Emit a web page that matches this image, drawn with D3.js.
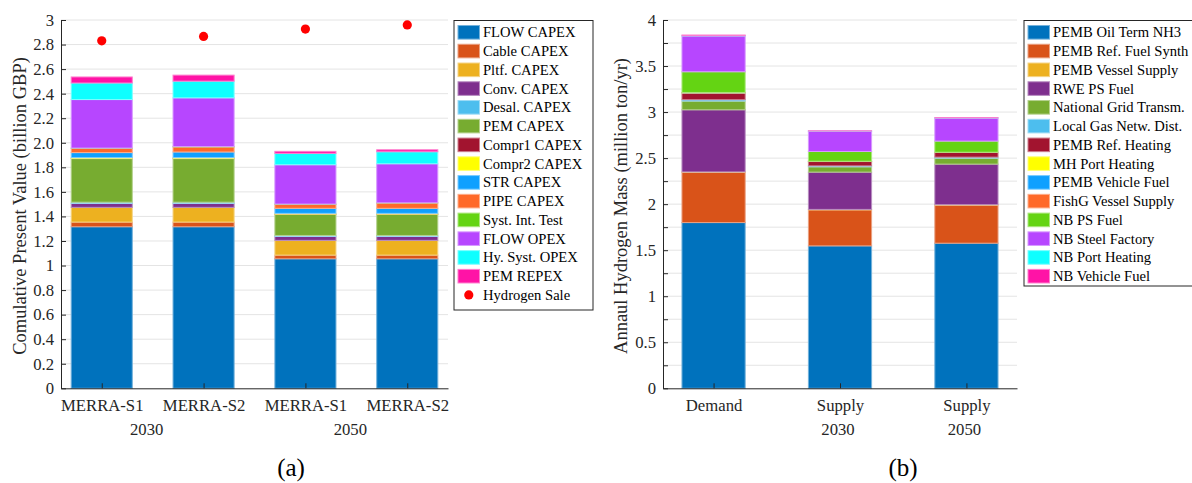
<!DOCTYPE html>
<html>
<head>
<meta charset="utf-8">
<script src="https://cdn.jsdelivr.net/npm/d3@7"></script>
<style>
    html, body { margin: 0; padding: 0; background: #fff; }
    svg { display: block; font-family: "Liberation Serif", "Times New Roman", serif; }
</style>
</head>
<body>
<svg id="chart" width="1192" height="483"></svg>
<script>
    //----- DATA (a) -----------------------------------//
    var costCategories = ['MERRA-S1', 'MERRA-S2', 'MERRA-S1', 'MERRA-S2'];
    var costYears = ['2030', '2050'];
    var costSeries = ['FLOW CAPEX', 'Cable CAPEX', 'Pltf. CAPEX', 'Conv. CAPEX', 'Desal. CAPEX',
        'PEM CAPEX', 'Compr1 CAPEX', 'Compr2 CAPEX', 'STR CAPEX', 'PIPE CAPEX',
        'Syst. Int. Test', 'FLOW OPEX', 'Hy. Syst. OPEX', 'PEM REPEX'];
    var cost2030S1 = [1.316, 0.038, 0.120, 0.032, 0.010, 0.355, 0.002, 0.006, 0.041, 0.034, 0.003, 0.395, 0.135, 0.049];
    var cost2030S2 = [1.316, 0.038, 0.120, 0.032, 0.010, 0.355, 0.002, 0.006, 0.046, 0.041, 0.003, 0.397, 0.136, 0.049];
    var cost2050S1 = [1.055, 0.030, 0.120, 0.032, 0.008, 0.172, 0.002, 0.006, 0.041, 0.032, 0.003, 0.320, 0.093, 0.016];
    var cost2050S2 = [1.055, 0.030, 0.120, 0.032, 0.008, 0.172, 0.002, 0.006, 0.041, 0.043, 0.002, 0.318, 0.098, 0.016];
    var hydrogenSale = [2.83, 2.866, 2.926, 2.96];
    var costTicks = ['0', '0.2', '0.4', '0.6', '0.8', '1', '1.2', '1.4', '1.6', '1.8', '2.0', '2.2', '2.4', '2.6', '2.8', '3'];

    //----- DATA (b) -----------------------------------//
    var massCategories = ['Demand', 'Supply', 'Supply'];
    var massYears = ['', '2030', '2050'];
    var massSeries = ['PEMB Oil Term NH3', 'PEMB Ref. Fuel Synth', 'PEMB Vessel Supply', 'RWE PS Fuel',
        'National Grid Transm.', 'Local Gas Netw. Dist.', 'PEMB Ref. Heating', 'MH Port Heating',
        'PEMB Vehicle Fuel', 'FishG Vessel Supply', 'NB PS Fuel', 'NB Steel Factory',
        'NB Port Heating', 'NB Vehicle Fuel'];
    var massDemand = [1.800, 0.545, 0.005, 0.675, 0.095, 0.015, 0.072, 0.002, 0.002, 0.002, 0.225, 0.389, 0.002, 0.008];
    var massSupply2030 = [1.547, 0.391, 0.005, 0.405, 0.058, 0.010, 0.047, 0.001, 0.001, 0.001, 0.106, 0.221, 0.001, 0.003];
    var massSupply2050 = [1.576, 0.413, 0.005, 0.441, 0.065, 0.011, 0.050, 0.001, 0.001, 0.001, 0.121, 0.250, 0.001, 0.004];
    var massTicks = ['0', '', '0.5', '', '1', '', '1.5', '', '2', '', '2.5', '', '3', '', '3.5', '', '4'];

    //----- COLOURS & SIZES ----------------------------//
    var COST_COLORS = ['#0072BD', '#D95319', '#EDB120', '#7E2F8E', '#4DBEEE', '#77AC30', '#A2142F',
        '#FFFF00', '#0FA0FF', '#FF6929', '#64D413', '#B746FF', '#0FFFFF', '#FF13A6'];
    var MASS_COLORS = ['#0072BD', '#D95319', '#EDB120', '#7E2F8E', '#77AC30', '#4DBEEE', '#A2142F',
        '#FFFF00', '#0FA0FF', '#FF6929', '#64D413', '#B746FF', '#0FFFFF', '#FF13A6'];
    var AXIS_COLOR = '#262626',
        GRID_COLOR = '#e4e4e4',
        TICK_FONT = 16.7,
        LABEL_FONT = 18.5,
        LEGEND_FONT = 14.6,
        LEGEND_STEP = 18.76;

    var svg = d3.select('#chart');

    function edgeColor(c) {
        return d3.interpolateRgb(c, '#ffffff')(0.45);
    }

    function buildRows(keys, bars) {
        return bars.map(function (vals) {
            var row = {};
            keys.forEach(function (k, i) { row[k] = vals[i]; });
            return row;
        });
    }

    //----- ONE PANEL ----------------------------------//
    function drawPanel(o) {
        var x = d3.scaleLinear().domain(o.xDomain).range([o.left, o.right]);
        var y = d3.scaleLinear().domain([0, o.yMax]).range([o.bottom, o.top]);
        var g = svg.append('g');
        var colors = o.colors;
        var tickVals = o.ticks.map(function (t, i) { return i * o.yStep; });

        // grid
        g.append('g').selectAll('line')
            .data(tickVals.slice(1)).enter()
            .append('line')
                .attr('x1', o.left).attr('x2', o.right)
                .attr('y1', function (d) { return y(d); })
                .attr('y2', function (d) { return y(d); })
                .attr('stroke', GRID_COLOR).attr('stroke-width', 1);

        // stacked bars
        var stacked = d3.stack().keys(o.keys)(buildRows(o.keys, o.bars));
        g.append('g').selectAll('g')
            .data(stacked).enter()
            .append('g')
                .attr('fill', function (d, i) { return colors[i]; })
                .attr('stroke', function (d, i) { return edgeColor(colors[i]); })
                .attr('stroke-width', 1)
            .selectAll('rect')
            .data(function (d) { return d; }).enter()
            .append('rect')
                .attr('x', function (d, i) { return x(i + 1 - o.barWidth / 2); })
                .attr('width', x(o.barWidth) - x(0))
                .attr('y', function (d) { return y(d[1]); })
                .attr('height', function (d) { return y(d[0]) - y(d[1]); });

        // markers
        if (o.markers) {
            g.append('g').selectAll('circle')
                .data(o.markers).enter()
                .append('circle')
                    .attr('cx', function (d, i) { return x(i + 1); })
                    .attr('cy', function (d) { return y(d); })
                    .attr('r', 4.6)
                    .attr('fill', '#ff0000');
        }

        // y axis
        var yAxis = g.append('g')
            .attr('transform', 'translate(' + o.left + ',0)')
            .call(d3.axisLeft(y).tickValues(tickVals)
                .tickFormat(function (d, i) { return o.ticks[i]; })
                .tickSizeInner(-5).tickSizeOuter(0).tickPadding(7));

        // x axis
        var xAxis = g.append('g')
            .attr('transform', 'translate(0,' + o.bottom + ')')
            .call(d3.axisBottom(x).tickValues(o.categories.map(function (c, i) { return i + 1; }))
                .tickFormat(function (d) { return o.categories[d - 1]; })
                .tickSizeInner(-5).tickSizeOuter(0).tickPadding(11));

        [yAxis, xAxis].forEach(function (a) {
            a.selectAll('path, line').attr('stroke', AXIS_COLOR);
            a.selectAll('text').attr('fill', AXIS_COLOR)
                .style('font-family', '"Liberation Serif", serif')
                .style('font-size', TICK_FONT + 'px');
        });

        // second tick line (years)
        g.append('g').selectAll('text')
            .data(o.years).enter()
            .append('text')
                .attr('x', function (d) { return x(d.pos) + o.yearShift; })
                .attr('y', o.bottom + 47)
                .attr('text-anchor', 'middle')
                .attr('fill', AXIS_COLOR)
                .style('font-size', TICK_FONT + 'px')
                .text(function (d) { return d.label; });

        // y label
        g.append('text')
            .attr('transform', 'translate(' + o.labelX + ',' + o.labelY + ') rotate(-90)')
            .attr('text-anchor', 'middle')
            .attr('fill', AXIS_COLOR)
            .style('font-size', LABEL_FONT + 'px')
            .text(o.yLabel);

        // legend
        var lg = g.append('g').attr('transform', 'translate(' + o.legendX + ',20.5)');
        var items = o.keys.map(function (k, i) { return { name: k, color: colors[i] }; });
        if (o.markerName) items.push({ name: o.markerName, marker: true });
        lg.append('rect')
            .attr('x', 0.5).attr('y', 0)
            .attr('width', o.legendW).attr('height', o.legendH)
            .attr('fill', '#fff').attr('stroke', AXIS_COLOR).attr('stroke-width', 1);
        var row = lg.selectAll('g.item')
            .data(items).enter()
            .append('g')
                .attr('transform', function (d, i) { return 'translate(0,' + (11.8 + i * LEGEND_STEP) + ')'; });
        row.filter(function (d) { return !d.marker; })
            .append('rect')
                .attr('x', 4.5).attr('y', -6.8)
                .attr('width', 21.5).attr('height', 13.6)
                .attr('fill', function (d) { return d.color; })
                .attr('stroke', function (d) { return edgeColor(d.color); });
        row.filter(function (d) { return d.marker; })
            .append('circle')
                .attr('cx', 15.3).attr('cy', 0).attr('r', 4.6)
                .attr('fill', '#ff0000');
        row.append('text')
            .attr('x', 29.5).attr('y', 5)
            .attr('fill', '#000')
            .style('font-size', LEGEND_FONT + 'px')
            .text(function (d) { return d.name; });

        // panel caption
        svg.append('text')
            .attr('x', o.captionX).attr('y', 476)
            .attr('text-anchor', 'middle')
            .attr('fill', '#000')
            .style('font-size', '25px')
            .text(o.caption);
    }

    drawPanel({
        keys: costSeries,
        colors: COST_COLORS,
        bars: [cost2030S1, cost2030S2, cost2050S1, cost2050S2],
        markers: hydrogenSale,
        markerName: 'Hydrogen Sale',
        categories: costCategories,
        years: [{ label: costYears[0], pos: 1.5 }, { label: costYears[1], pos: 3.5 }],
        yearShift: -6,
        ticks: costTicks,
        yStep: 0.2,
        yMax: 3,
        xDomain: [0.6, 4.4],
        barWidth: 0.6,
        left: 61, right: 448, top: 20, bottom: 388.3,
        yLabel: 'Comulative Present Value (billion GBP)',
        labelX: 26, labelY: 206,
        legendX: 453.5, legendW: 139, legendH: 289.5,
        caption: '(a)', captionX: 291
    });

    drawPanel({
        keys: massSeries,
        colors: MASS_COLORS,
        bars: [massDemand, massSupply2030, massSupply2050],
        categories: massCategories,
        years: [{ label: massYears[1], pos: 2 }, { label: massYears[2], pos: 3 }],
        yearShift: -2,
        ticks: massTicks,
        yStep: 0.25,
        yMax: 4,
        xDomain: [0.6, 3.4],
        barWidth: 0.5,
        left: 663, right: 1017, top: 20, bottom: 388.3,
        yLabel: 'Annaul Hydrogen Mass (million ton/yr)',
        labelX: 627, labelY: 206,
        legendX: 1023.5, legendW: 200, legendH: 265.5,
        caption: '(b)', captionX: 903
    });
</script>
</body>
</html>
